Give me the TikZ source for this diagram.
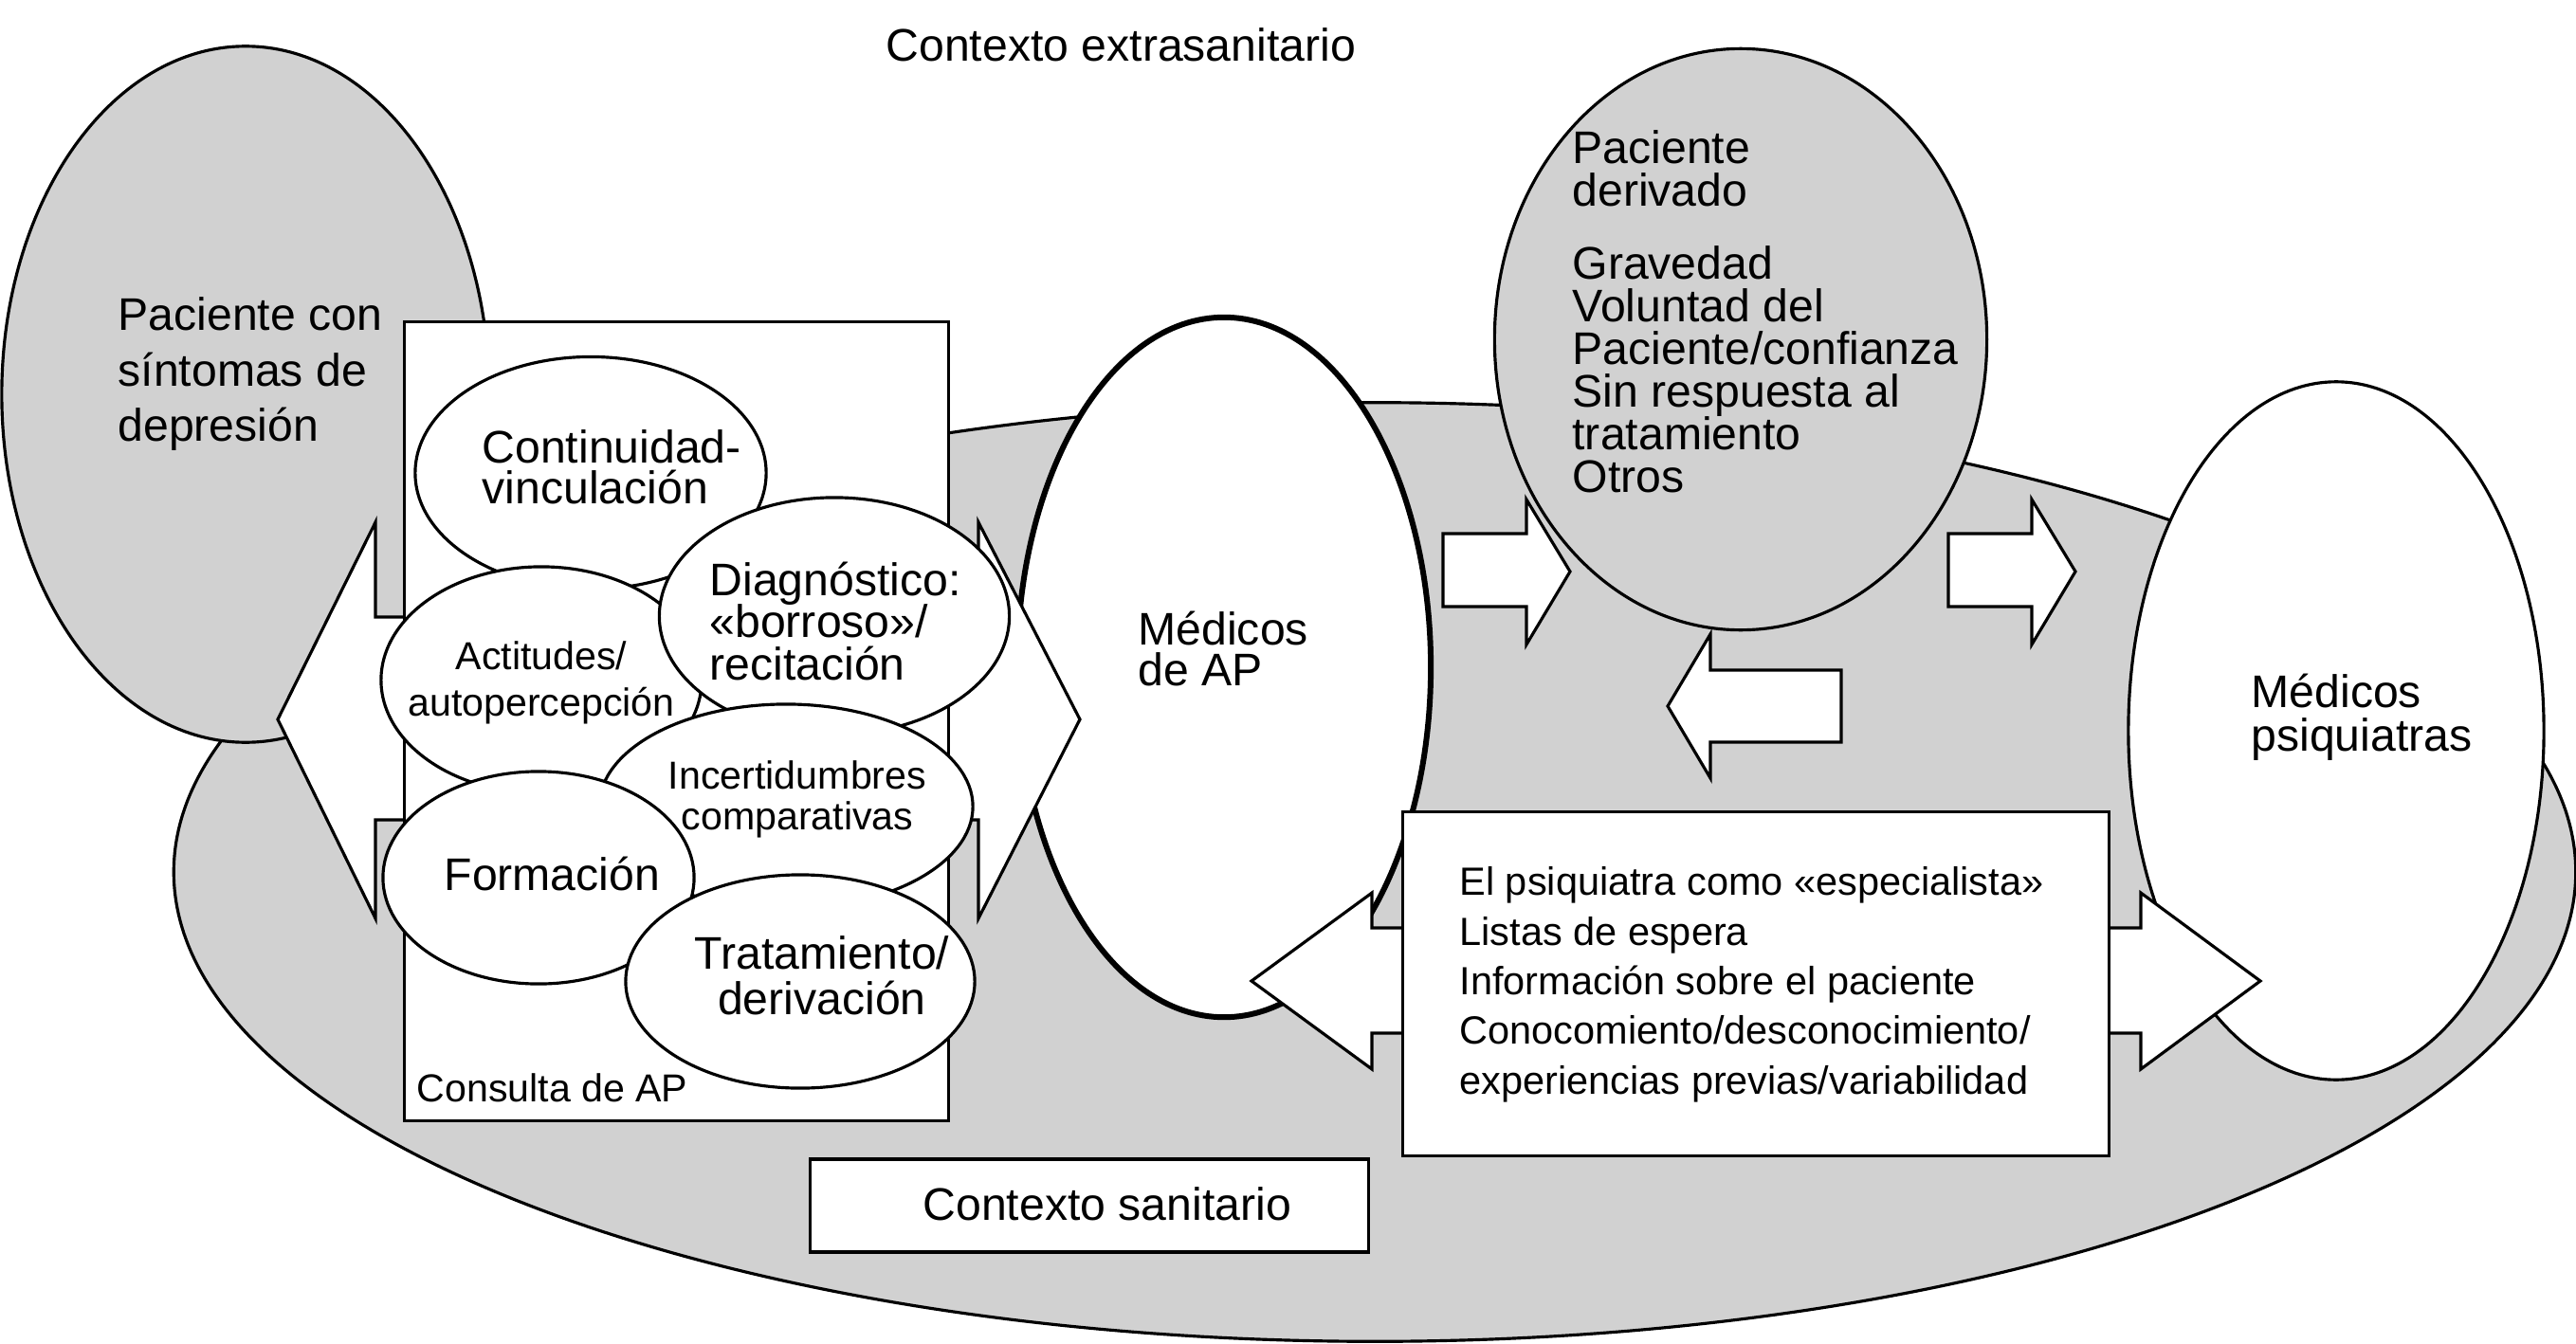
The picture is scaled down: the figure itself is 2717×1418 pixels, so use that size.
\documentclass[tikz,border=0pt]{standalone}
\usepackage{fontspec}
\setmainfont{Liberation Sans}
\usetikzlibrary{shapes.geometric}

\definecolor{ctxgray}{RGB}{209,209,209}
\lineskiplimit=-20pt

\begin{document}
\begin{tikzpicture}[
    x=0.01cm, y=-0.01cm,
    line width=0.9pt,
    ell/.style={ellipse, draw, fill=white, inner sep=0pt},
    grayell/.style={ellipse, draw, fill=ctxgray, inner sep=0pt},
    box/.style={rectangle, draw, fill=white, inner sep=0pt},
    blockarrow/.style={draw, fill=white},
    txt/.style={inner sep=0pt, align=left, anchor=north west},
    ctxt/.style={inner sep=0pt, align=center, anchor=north}
]
    \useasboundingbox (0,0) rectangle (2717,1418);

    % contexts and actors
    \node[grayell, minimum width=25.32cm, minimum height=9.9cm] (sanit) at (1450,920) {};
    \node[grayell, minimum width=5.14cm, minimum height=7.34cm] (paciente) at (259,416) {};
    \node[grayell, minimum width=5.19cm, minimum height=6.13cm] (derivado) at (1836,358) {};
    \node[ell, minimum width=4.38cm, minimum height=7.36cm] (psiq) at (2464,771) {};
    \node[ell, line width=1.7pt, minimum width=4.36cm, minimum height=7.38cm] (medap) at (1291,704) {};

    % consulta de AP
    \draw[blockarrow] (293,759) -- (396,551) -- (396,651) -- (1032,651) -- (1032,551) -- (1139,759)
        -- (1032,969) -- (1032,865) -- (396,865) -- (396,969) -- cycle;
    \node[box, minimum width=5.73cm, minimum height=8.42cm] (consulta) at (713.5,761) {};
    \node[ell, minimum width=3.70cm, minimum height=2.45cm] (contin) at (623,499) {};
    \node[ell, minimum width=3.38cm, minimum height=2.39cm] (actit) at (571,717.5) {};
    \node[ell, minimum width=3.69cm, minimum height=2.50cm] (diagn) at (880,650) {};
    \node[ell, minimum width=3.94cm, minimum height=2.16cm] (incert) at (829,851) {};
    \node[ell, minimum width=3.28cm, minimum height=2.24cm] (formac) at (568,926) {};
    \node[ell, minimum width=3.68cm, minimum height=2.25cm] (tratam) at (844,1035.5) {};

    % relacion AP - psiquiatria
    \draw[blockarrow] (1320,1035) -- (1447,942) -- (1447,979) -- (2258,979) -- (2258,942) -- (2384,1035)
        -- (2258,1128) -- (2258,1090) -- (1447,1090) -- (1447,1128) -- cycle;
    \node[box, minimum width=7.44cm, minimum height=3.62cm] (relacion) at (1852,1038) {};

    % derivacion
    \draw[blockarrow] (1522,563) -- (1610,563) -- (1610,527) -- (1656,603) -- (1610,680) -- (1610,640) -- (1522,640) -- cycle;
    \draw[blockarrow] (2055,563) -- (2143,563) -- (2143,527) -- (2189,603) -- (2143,680) -- (2143,640) -- (2055,640) -- cycle;
    \draw[blockarrow] (1942,707) -- (1804,707) -- (1804,669) -- (1759,745) -- (1804,821) -- (1804,783) -- (1942,783) -- cycle;

    \node[box, minimum width=5.88cm, minimum height=0.98cm] (sanitbox) at (1149,1272) {};

    % texts
    \node[txt, font=\fontsize{13.7}{13.7}\selectfont] (extra) at (933,28.5) {Contexto extrasanitario};
    \node[txt, font=\fontsize{13.7}{16.5}\selectfont] (pactxt) at (123,312.5) {Paciente con\\síntomas de\\depresión};
    \node[txt, font=\fontsize{13.7}{12.2}\selectfont] (contxt) at (507,452.5) {Continuidad-\\vinculación};
    \node[txt, font=\fontsize{13.7}{12.7}\selectfont] (diagtxt) at (747,591) {Diagnóstico:\\«borroso»/\\recitación};
    \node[ctxt, font=\fontsize{11.7}{13.7}\selectfont] (acttxt) at (571,675.5) {Actitudes/\\autopercepción};
    \node[ctxt, font=\fontsize{11.7}{12.2}\selectfont] (inctxt) at (841,801.5) {Incertidumbres\\comparativas};
    \node[txt, font=\fontsize{13.7}{13.7}\selectfont] (fortxt) at (467,902.5) {Formación};
    \node[ctxt, font=\fontsize{13.7}{13.7}\selectfont] (tratxt) at (867,985.5) {Tratamiento/\\derivación};
    \node[txt, font=\fontsize{11.7}{11.7}\selectfont] (constxt) at (438,1131.5) {Consulta de AP};
    \node[txt, font=\fontsize{13.7}{12.4}\selectfont] (medtxt) at (1199,643) {Médicos\\de AP};
    \node[txt, font=\fontsize{13.7}{12.8}\selectfont] (dertxt) at (1657,136) {Paciente\\derivado\\[9.1pt]Gravedad\\Voluntad del\\Paciente/confianza\\Sin respuesta al\\tratamiento\\Otros};
    \node[txt, font=\fontsize{13.7}{13.1}\selectfont] (psqtxt) at (2373,709.5) {Médicos\\psiquiatras};
    \node[txt, font=\fontsize{11.8}{14.9}\selectfont] (reltxt) at (1538,913) {El psiquiatra como «especialista»\\Listas de espera\\Información sobre el paciente\\Conocomiento/desconocimiento/\\experiencias previas/variabilidad};
    \node[txt, font=\fontsize{13.7}{13.7}\selectfont] (santxt) at (972,1250.5) {Contexto sanitario};
\end{tikzpicture}
\end{document}
